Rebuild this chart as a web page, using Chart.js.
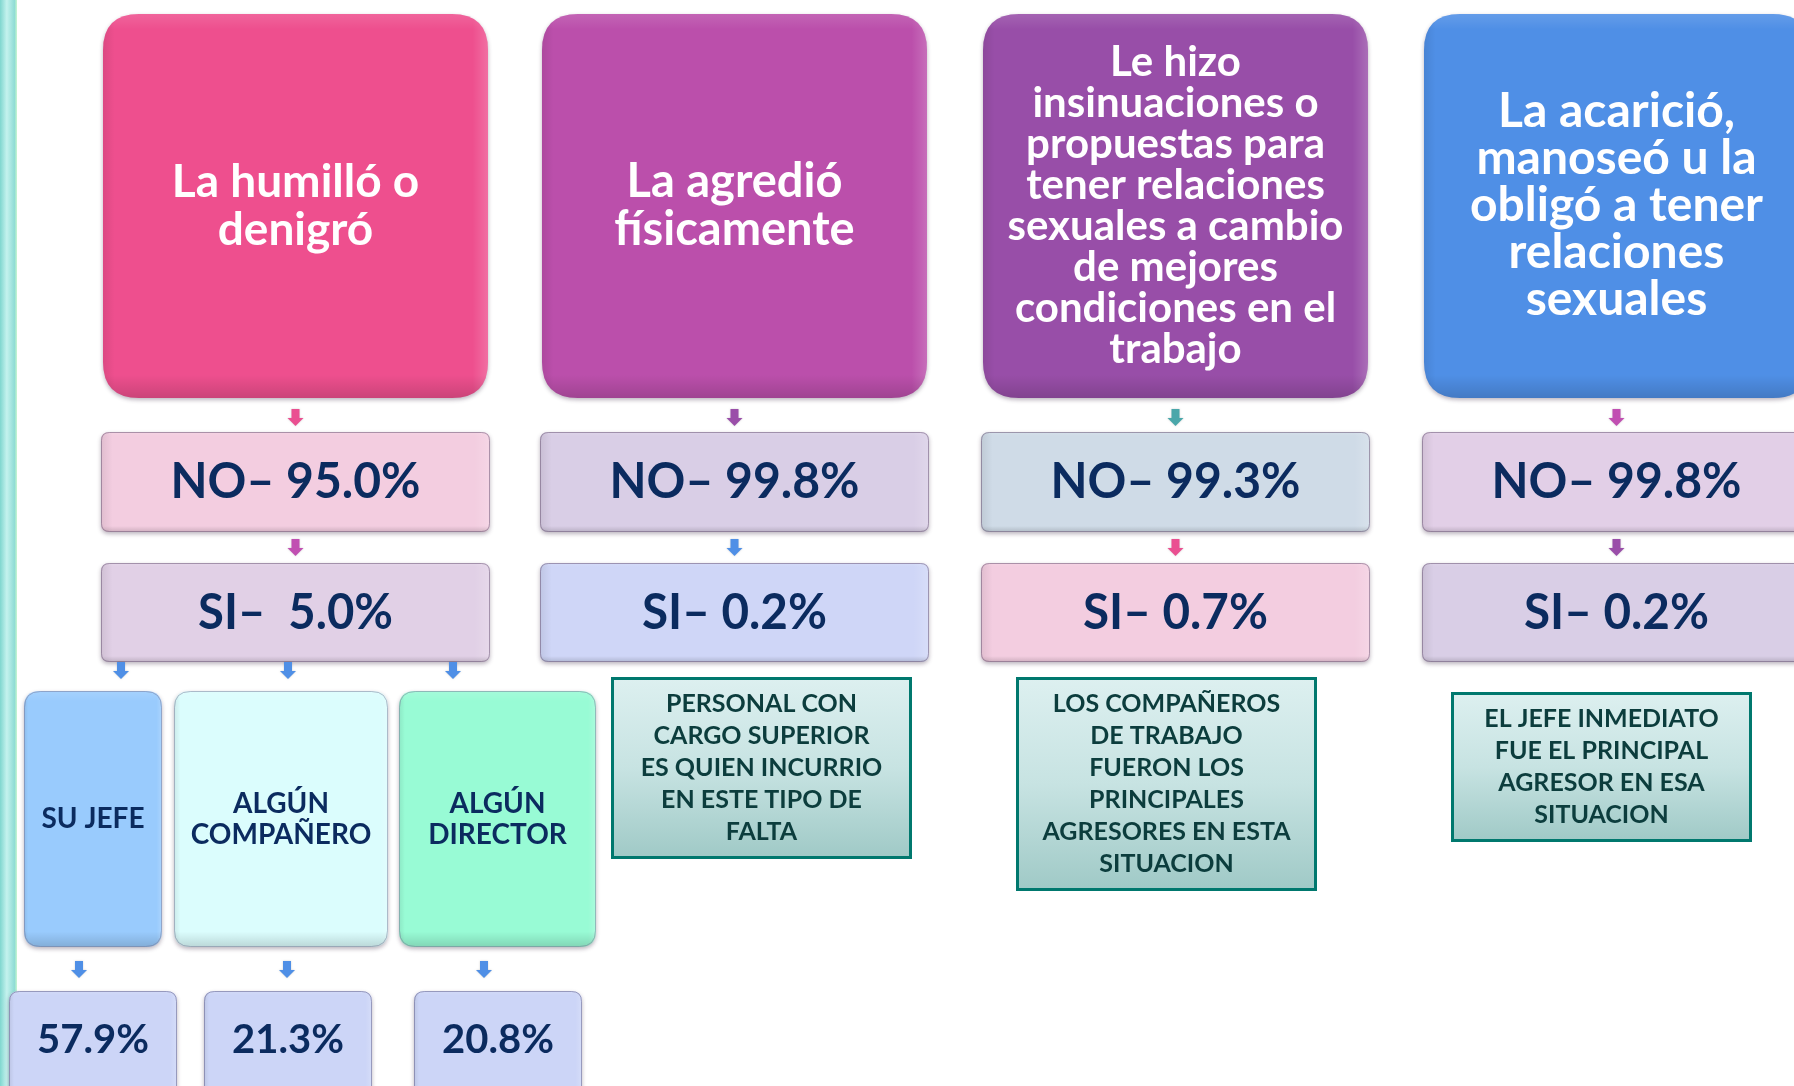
<!DOCTYPE html>
<html>
<head>
<meta charset="utf-8">
<script src="https://cdn.jsdelivr.net/npm/chart.js@4.4.1/dist/chart.umd.min.js"></script>
<style>
  html, body { margin: 0; padding: 0; background: #ffffff; overflow: hidden; }
  canvas { display: block; }
</style>
</head>
<body>
<canvas id="diagram" width="1794" height="1086"></canvas>
<script>
// data
var categories = [
    ['La humilló o', 'denigró'],
    ['La agredió', 'físicamente'],
    ['Le hizo', 'insinuaciones o', 'propuestas para', 'tener relaciones', 'sexuales a cambio', 'de mejores', 'condiciones en el', 'trabajo'],
    ['La acarició,', 'manoseó u la', 'obligó a tener', 'relaciones', 'sexuales']
];
var no_values = [95.0, 99.8, 99.3, 99.8];
var si_values = [5.0, 0.2, 0.7, 0.2];
var agresor_labels = [['SU JEFE'], ['ALGÚN', 'COMPAÑERO'], ['ALGÚN', 'DIRECTOR']];
var agresor_values = [57.9, 21.3, 20.8];
var notes = [
    null,
    ['PERSONAL CON', 'CARGO SUPERIOR', 'ES QUIEN INCURRIO', 'EN ESTE TIPO DE', 'FALTA'],
    ['LOS COMPAÑEROS', 'DE TRABAJO', 'FUERON LOS', 'PRINCIPALES', 'AGRESORES EN ESTA', 'SITUACION'],
    ['EL JEFE INMEDIATO', 'FUE EL PRINCIPAL', 'AGRESOR EN ESA', 'SITUACION']
];

// layout (canvas units through hidden linear scales)
var col_left = [103, 542, 983, 1424];
var col_width = 385;
var title_top = 14, title_bottom = 398;
var no_top = 432, no_bottom = 532;
var si_top = 563, si_bottom = 662;
var sub_left = [24, 174, 399], sub_right = [162, 388, 596];
var sub_top = 691, sub_bottom = 947;
var sub_arrow_x = [121, 288, 453];
var pct_arrow_x = [79, 287, 484];
var pct_left = [9, 204, 414], pct_right = [177, 372, 582];
var pct_top = 991, pct_bottom = 1100;
var note_box = [null, [611, 677, 912, 859], [1016, 677, 1317, 891], [1451, 692, 1752, 842]];

var title_colors = ['#ee4f8e', '#bb4fab', '#984ea8', '#4f8fe6'];
var title_fonts = [46, 47, 42, 48];
var title_lines = [48, 48, 41, 47];
var no_colors = ['#f3cde0', '#d9cee6', '#cfdbe7', '#e2cfe7'];
var si_colors = ['#e1d0e6', '#cfd6f7', '#f3cde0', '#d9cee6'];
var arrow1_colors = ['#ea4f91', '#9a4ea9', '#4aa7aa', '#c14fb2'];
var arrow2_colors = ['#c14fb2', '#4f8fe6', '#ea4f91', '#9a4ea9'];
var sub_colors = ['#99cbfd', '#dbfdfd', '#98fbd5'];
var navy = '#0b2b5f';

function round_rect(ctx, x, y, w, h, r)
{
    ctx.beginPath();
    ctx.moveTo(x + r, y);
    ctx.lineTo(x + w - r, y);
    ctx.quadraticCurveTo(x + w, y, x + w, y + r);
    ctx.lineTo(x + w, y + h - r);
    ctx.quadraticCurveTo(x + w, y + h, x + w - r, y + h);
    ctx.lineTo(x + r, y + h);
    ctx.quadraticCurveTo(x, y + h, x, y + h - r);
    ctx.lineTo(x, y + r);
    ctx.quadraticCurveTo(x, y, x + r, y);
    ctx.closePath();
}

function bevel_box(ctx, x, y, w, h, r, color, border)
{
    ctx.save();
    round_rect(ctx, x, y, w, h, r);
    ctx.shadowColor = 'rgba(60,40,70,0.35)';
    ctx.shadowBlur = 4;
    ctx.shadowOffsetY = 2;
    ctx.fillStyle = color;
    ctx.fill();
    ctx.restore();

    ctx.save();
    round_rect(ctx, x, y, w, h, r);
    ctx.clip();
    var gx = ctx.createLinearGradient(x, 0, x + w, 0);
    gx.addColorStop(0, 'rgba(0,0,0,0.08)');
    gx.addColorStop(0.03, 'rgba(0,0,0,0)');
    gx.addColorStop(0.96, 'rgba(255,255,255,0)');
    gx.addColorStop(1, 'rgba(255,255,255,0.18)');
    ctx.fillStyle = gx;
    ctx.fillRect(x, y, w, h);
    var gy = ctx.createLinearGradient(0, y, 0, y + h);
    gy.addColorStop(0, 'rgba(255,255,255,0.12)');
    gy.addColorStop(0.04, 'rgba(255,255,255,0)');
    gy.addColorStop(0.94, 'rgba(0,0,0,0)');
    gy.addColorStop(1, 'rgba(0,0,0,0.15)');
    ctx.fillStyle = gy;
    ctx.fillRect(x, y, w, h);
    ctx.restore();

    if (border)
    {
        round_rect(ctx, x + 0.5, y + 0.5, w - 1, h - 1, r);
        ctx.strokeStyle = border;
        ctx.lineWidth = 1;
        ctx.stroke();
    }
}

function down_arrow(ctx, cx, top, color)
{
    ctx.save();
    ctx.fillStyle = color;
    ctx.shadowColor = 'rgba(0,0,0,0.2)';
    ctx.shadowBlur = 2;
    ctx.beginPath();
    ctx.moveTo(cx - 4, top);
    ctx.lineTo(cx + 4, top);
    ctx.lineTo(cx + 4, top + 9);
    ctx.lineTo(cx + 8, top + 9);
    ctx.lineTo(cx, top + 17);
    ctx.lineTo(cx - 8, top + 9);
    ctx.lineTo(cx - 4, top + 9);
    ctx.closePath();
    ctx.fill();
    ctx.restore();
}

function text_block(ctx, lines, cx, cy, size, step, color, max_w)
{
    ctx.save();
    ctx.font = 'bold ' + size + 'px Lato, "Open Sans", sans-serif';
    ctx.fillStyle = color;
    ctx.textAlign = 'center';
    ctx.textBaseline = 'middle';
    var y0 = cy - (lines.length - 1) * step / 2;
    lines.forEach(function (line, i)
    {
        var w = ctx.measureText(line).width;
        ctx.save();
        ctx.translate(cx, y0 + i * step);
        if (max_w && w > max_w) ctx.scale(max_w / w, 1);
        ctx.fillText(line, 0, 0);
        ctx.restore();
    });
    ctx.restore();
}

function pct(v)
{
    return v.toFixed(1) + '%';
}

var diagram_plugin =
{
    id: 'diagram',
    afterDraw: function (chart)
    {
        var ctx = chart.ctx;
        var sx = chart.scales.x, sy = chart.scales.y;
        function px(v) { return sx.getPixelForValue(v); }
        function py(v) { return sy.getPixelForValue(v); }

        // left accent strip
        var strip = ctx.createLinearGradient(px(0), 0, px(17), 0);
        strip.addColorStop(0, '#7fd6cf');
        strip.addColorStop(0.4, '#c4f2ee');
        strip.addColorStop(0.85, '#8fdcd5');
        strip.addColorStop(1, '#c8f7cf');
        ctx.fillStyle = strip;
        ctx.fillRect(px(0), py(0), px(17) - px(0), py(1086) - py(0));

        categories.forEach(function (title, i)
        {
            var x = px(col_left[i]), w = px(col_left[i] + col_width) - x;
            var cx = x + w / 2;

            bevel_box(ctx, x, py(title_top), w, py(title_bottom) - py(title_top), 36, title_colors[i]);
            text_block(ctx, title, cx, (py(title_top) + py(title_bottom)) / 2, title_fonts[i], title_lines[i], '#ffffff', w - 20);

            down_arrow(ctx, cx, py(409), arrow1_colors[i]);
            bevel_box(ctx, x - 2, py(no_top), w + 4, py(no_bottom) - py(no_top), 8, no_colors[i], 'rgba(110,90,120,0.55)');
            text_block(ctx, ['NO– ' + pct(no_values[i])], cx, (py(no_top) + py(no_bottom)) / 2, 50, 0, navy, 250);

            down_arrow(ctx, cx, py(539), arrow2_colors[i]);
            bevel_box(ctx, x - 2, py(si_top), w + 4, py(si_bottom) - py(si_top), 8, si_colors[i], 'rgba(110,90,120,0.55)');
            var si_text = i == 0 ? 'SI–  ' + pct(si_values[i]) : 'SI– ' + pct(si_values[i]);
            text_block(ctx, [si_text], cx, (py(si_top) + py(si_bottom)) / 2, 50, 0, navy, i == 0 ? 195 : 185);

            if (notes[i])
            {
                var b = note_box[i];
                var nx = px(b[0]), ny = py(b[1]), nw = px(b[2]) - nx, nh = py(b[3]) - ny;
                var g = ctx.createLinearGradient(0, ny, 0, ny + nh);
                g.addColorStop(0, '#ddf0f0');
                g.addColorStop(0.5, '#c7e3e2');
                g.addColorStop(1, '#9fc9c6');
                ctx.fillStyle = g;
                ctx.fillRect(nx, ny, nw, nh);
                ctx.strokeStyle = '#00786e';
                ctx.lineWidth = 3;
                ctx.strokeRect(nx + 1.5, ny + 1.5, nw - 3, nh - 3);
                text_block(ctx, notes[i], nx + nw / 2, ny + nh / 2, 25, 32, '#0c3d3d', nw - 24);
            }
        });

        // breakdown of who did it, first column only
        agresor_labels.forEach(function (label, j)
        {
            down_arrow(ctx, px(sub_arrow_x[j]), py(662), '#4f8fe6');
            var x = px(sub_left[j]), w = px(sub_right[j]) - x;
            bevel_box(ctx, x, py(sub_top), w, py(sub_bottom) - py(sub_top), 16, sub_colors[j], 'rgba(120,120,150,0.5)');
            text_block(ctx, label, x + w / 2, (py(sub_top) + py(sub_bottom)) / 2, 28, 31, navy, w - 12);

            var bx = px(pct_left[j]), bw = px(pct_right[j]) - bx;
            down_arrow(ctx, px(pct_arrow_x[j]), py(961), '#4f8fe6');
            bevel_box(ctx, bx, py(pct_top), bw, py(pct_bottom) - py(pct_top), 10, '#ccd5f7', 'rgba(110,110,150,0.6)');
            text_block(ctx, [pct(agresor_values[j])], bx + bw / 2, py(1040), 40, 0, navy, 112);
        });
    }
};

new Chart(document.getElementById('diagram'),
    {
        type: 'scatter',
        data: { datasets: [] },
        options:
        {
            responsive: false,
            animation: false,
            devicePixelRatio: 1,
            layout: { padding: 0 },
            plugins: { legend: { display: false }, tooltip: { enabled: false } },
            scales:
            {
                x: { type: 'linear', min: 0, max: 1794, display: false },
                y: { type: 'linear', min: 0, max: 1086, reverse: true, display: false }
            }
        },
        plugins: [diagram_plugin]
    });
</script>
</body>
</html>
